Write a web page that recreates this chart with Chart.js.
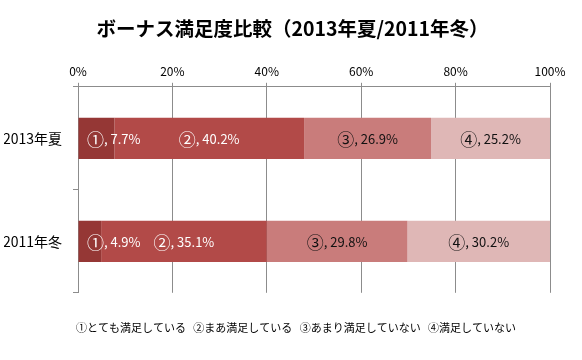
<!DOCTYPE html>
<html><head><meta charset="utf-8">
<script src="https://cdn.jsdelivr.net/npm/chart.js@4"></script>
<style>html,body{margin:0;padding:0;background:#fff}#wrap{width:582px;height:360px}</style>
</head><body><div id="wrap"><canvas id="c" width="582" height="360"></canvas></div>
<script>
const categories = ['2013年夏', '2011年冬'];
const seriesNames = ['①とても満足している', '②まあ満足している', '③あまり満足していない', '④満足していない'];
const seriesMarks = ['①', '②', '③', '④'];
const s1 = [7.7, 4.9];
const s2 = [40.2, 35.1];
const s3 = [26.9, 29.8];
const s4 = [25.2, 30.2];
const tickLabels = ['0%', '20%', '40%', '60%', '80%', '100%'];
const colors = ['#953735', '#b24a48', '#c97c7b', '#dfb7b6'];
const labelColors = ['#ffffff', '#ffffff', '#111111', '#111111'];
const values = [s1, s2, s3, s4];

const FONT = '"Noto Sans CJK JP", "Noto Sans", sans-serif';

const labelPlugin = {
  id: 'segLabels',
  afterLayout(chart) {
    // centre the title and the bottom key text as in the original
    chart.boxes.forEach(b => {
      if (b.options && typeof b.options.text === 'string') {
        if (b.options.position === 'top') { b.left = 0; b.right = 585; }
        else if (b.options.position === 'bottom') { b.left = 0; b.right = 592; }
      }
    });
  },
  afterDatasetsDraw(chart) {
    const ctx = chart.ctx;
    const area = chart.chartArea;
    ctx.save();
    ctx.textBaseline = 'middle';
    ctx.textAlign = 'left';
    const markFont = '17px ' + FONT;
    const textFont = '13px ' + FONT;
    chart.data.datasets.forEach((ds, di) => {
      const meta = chart.getDatasetMeta(di);
      meta.data.forEach((bar, i) => {
        const mark = seriesMarks[di];
        const rest = ', ' + ds.data[i].toFixed(1) + '%';
        ctx.font = markFont;
        const w1 = ctx.measureText(mark).width;
        ctx.font = textFont;
        const w2 = ctx.measureText(rest).width;
        const cx = (bar.x + bar.base) / 2;
        let x = cx - (w1 + w2) / 2;
        if (x < area.left + 9) x = area.left + 9;
        ctx.fillStyle = labelColors[di];
        ctx.font = markFont;
        ctx.fillText(mark, x, bar.y + 1);
        ctx.font = textFont;
        ctx.fillText(rest, x + w1, bar.y + 1);
      });
    });
    ctx.restore();
  }
};

new Chart(document.getElementById('c'), {
  type: 'bar',
  data: {
    labels: categories,
    datasets: values.map((v, i) => ({
      label: seriesNames[i],
      data: v,
      backgroundColor: colors[i],
      borderWidth: 0,
      barPercentage: 0.4,
      categoryPercentage: 1.0
    }))
  },
  options: {
    indexAxis: 'y',
    responsive: false,
    animation: false,
    layout: { padding: { left: 4, right: 32, top: 0, bottom: 0 } },
    plugins: {
      title: {
        display: true,
        text: 'ボーナス満足度比較（2013年夏/2011年冬）',
        font: { family: FONT, size: 19.5, weight: 'bold' },
        color: '#000',
        padding: { top: 17, bottom: 20 }
      },
      subtitle: {
        display: true,
        position: 'bottom',
        text: seriesNames.join('   '),
        font: { family: FONT, size: 11 },
        color: '#000',
        padding: { top: 28, bottom: 26 }
      },
      legend: { display: false },
      tooltip: { enabled: false }
    },
    scales: {
      x: {
        position: 'top',
        stacked: true,
        min: 0,
        max: 100,
        ticks: {
          stepSize: 20,
          color: '#000',
          font: { family: FONT, size: 12 },
          padding: 4,
          callback: (v, i) => tickLabels[i]
        },
        grid: { color: '#8c8c8c', lineWidth: 1, tickLength: 4, drawTicks: true },
        border: { color: '#8c8c8c' }
      },
      y: {
        stacked: true,
        afterFit: (scale) => { scale.width = 74; },
        ticks: { color: '#000', font: { family: FONT, size: 14 }, padding: 11 },
        grid: { offset: true, drawOnChartArea: false, drawTicks: true, tickLength: 5, color: '#8c8c8c' },
        border: { color: '#8c8c8c' }
      }
    }
  },
  plugins: [labelPlugin]
});
</script></body></html>
